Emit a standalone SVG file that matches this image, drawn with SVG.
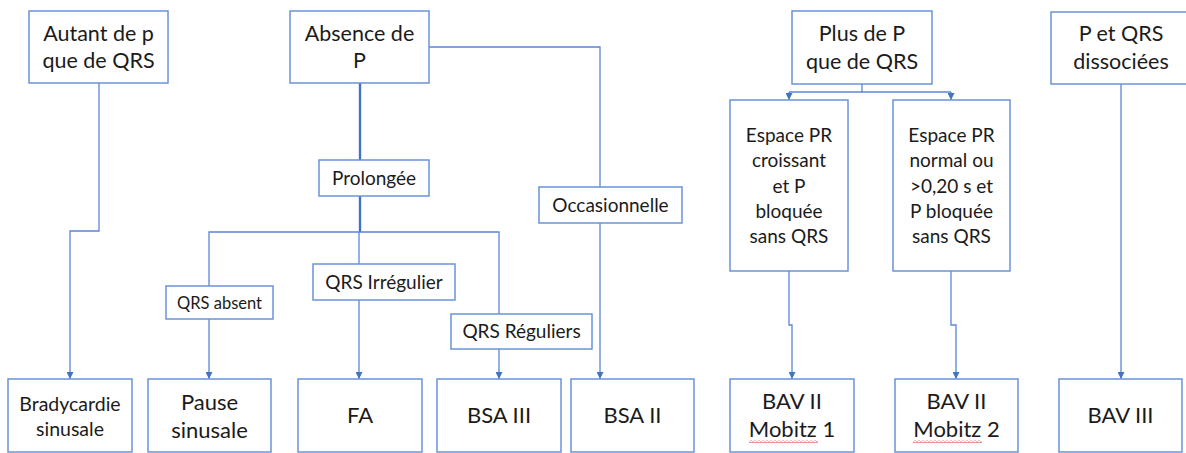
<svg xmlns="http://www.w3.org/2000/svg" width="1186" height="453" viewBox="0 0 1186 453">
<defs>
<marker id="ah" viewBox="0 0 10 10" refX="10" refY="5" markerWidth="7" markerHeight="7" markerUnits="userSpaceOnUse" orient="auto"><path d="M0,0 L10,5 L0,10 z" fill="#4472c4"/></marker>
<pattern id="wave" x="0" y="0" width="4" height="3" patternUnits="userSpaceOnUse"><path d="M0,1.5 Q1,0 2,1.5 T4,1.5" fill="none" stroke="#e03a3a" stroke-width="0.9"/></pattern>
</defs>
<style>
.box{fill:#fff;stroke:#6a93d9;stroke-width:1.5}
.c{fill:none;stroke:#5a86d4;stroke-width:1.3}
.thick{stroke:#4472c4;stroke-width:2.4}
.a{marker-end:url(#ah)}
text{font-family:Lato,"Liberation Sans",sans-serif;fill:#1b1b1b;text-anchor:middle}
.top{font-size:21.5px}
.mid{font-size:19px}
.sm{font-size:16.5px}
.bot{font-size:22px}
.brd{font-size:19.5px}
</style>
<rect width="1186" height="453" fill="#fff"/>
<g id="connectors">
<path class="c a" d="M99,83 V231 H70 V379"/>
<path class="c" d="M429,47 H600 V187"/>
<path class="c thick" d="M360,83 V160"/>
<path class="c thick" d="M360,196 V232"/>
<path class="c" d="M209,286 V232 H499 V314"/>
<path class="c" d="M359,232 V264"/>
<path class="c a" d="M209,319 V379"/>
<path class="c a" d="M359,300 V379"/>
<path class="c a" d="M499,349 V379"/>
<path class="c a" d="M600,223 V379"/>
<path class="c" d="M862,84 V92"/>
<path class="c" d="M789,92 H951"/>
<path class="c a" d="M789,92 V100"/>
<path class="c a" d="M951,92 V100"/>
<path class="c a" d="M789,271 V325 H792 V379"/>
<path class="c a" d="M951,271 V325 H956 V379"/>
<path class="c a" d="M1121,84 V379"/>
</g>
<g id="autant"><rect class="box" x="29" y="11" width="139" height="72"/><text class="top" x="98.5" y="41">Autant de p</text><text class="top" x="98.5" y="68">que de QRS</text></g>
<g id="absence"><rect class="box" x="290" y="11" width="139" height="72"/><text class="top" x="359.5" y="41">Absence de</text><text class="top" x="359.5" y="68">P</text></g>
<g id="plus"><rect class="box" x="792" y="11" width="140" height="73"/><text class="top" x="862" y="41">Plus de P</text><text class="top" x="862" y="69">que de QRS</text></g>
<g id="dissociees"><rect class="box" x="1051" y="12" width="140" height="72"/><text class="top" x="1121" y="41">P et QRS</text><text class="top" x="1121" y="69">dissociées</text></g>
<g id="prolongee"><rect class="box" x="319" y="160" width="110" height="36"/><text class="mid" x="374" y="185">Prolongée</text></g>
<g id="qrsabsent"><rect class="box" x="166" y="286" width="107" height="33"/><text class="sm" x="219.5" y="309">QRS absent</text></g>
<g id="qrsirreg"><rect class="box" x="313" y="264" width="142" height="36"/><text class="mid" x="384" y="289">QRS Irrégulier</text></g>
<g id="qrsreg"><rect class="box" x="451" y="314" width="141" height="35"/><text class="mid" x="521.5" y="338">QRS Réguliers</text></g>
<g id="occas"><rect class="box" x="539" y="187" width="143" height="36"/><text class="mid" x="610.5" y="212">Occasionnelle</text></g>
<g id="espace1"><rect class="box" x="730" y="100" width="118" height="171"/><text class="mid" x="789" y="142">Espace PR</text><text class="mid" x="789" y="167">croissant</text><text class="mid" x="789" y="193">et P</text><text class="mid" x="789" y="218">bloquée</text><text class="mid" x="789" y="243">sans QRS</text></g>
<g id="espace2"><rect class="box" x="893" y="100" width="117" height="171"/><text class="mid" x="951.5" y="142">Espace PR</text><text class="mid" x="951.5" y="167">normal ou</text><text class="mid" x="951.5" y="193">&gt;0,20 s et</text><text class="mid" x="951.5" y="218">P bloquée</text><text class="mid" x="951.5" y="243">sans QRS</text></g>
<g id="brady"><rect class="box" x="8" y="379" width="124" height="73"/><text class="brd" x="70" y="411">Bradycardie</text><text class="brd" x="70" y="436">sinusale</text></g>
<g id="pause"><rect class="box" x="148" y="379" width="123" height="73"/><text class="bot" x="209.5" y="410">Pause</text><text class="bot" x="209.5" y="438">sinusale</text></g>
<g id="fa"><rect class="box" x="298" y="379" width="124" height="73"/><text class="bot" x="360" y="423">FA</text></g>
<g id="bsa3"><rect class="box" x="437" y="379" width="124" height="73"/><text class="bot" x="499" y="423">BSA III</text></g>
<g id="bsa2"><rect class="box" x="571" y="379" width="123" height="73"/><text class="bot" x="632.5" y="423">BSA II</text></g>
<g id="mobitz1"><rect class="box" x="730" y="379" width="124" height="73"/><text class="bot" x="792" y="409">BAV II</text><text class="bot" x="792" y="437">Mobitz 1</text><rect x="749" y="440" width="69" height="3" fill="url(#wave)"/></g>
<g id="mobitz2"><rect class="box" x="895" y="379" width="123" height="73"/><text class="bot" x="956.5" y="409">BAV II</text><text class="bot" x="956.5" y="437">Mobitz 2</text><rect x="913" y="440" width="69" height="3" fill="url(#wave)"/></g>
<g id="bav3"><rect class="box" x="1059" y="379" width="123" height="73"/><text class="bot" x="1120.5" y="423">BAV III</text></g>
</svg>
